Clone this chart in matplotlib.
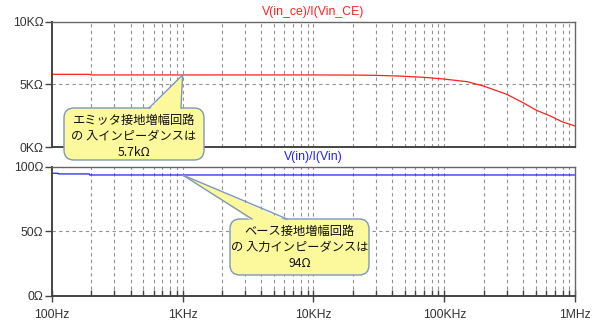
import numpy as np
import matplotlib.pyplot as plt
from matplotlib.patches import FancyBboxPatch, Polygon
from matplotlib.lines import Line2D

plt.rcParams['font.family'] = ['Liberation Sans', 'Noto Sans CJK JP', 'DejaVu Sans']

# upper trace: common-emitter input impedance (kOhm)
freq_ce = [100, 195, 200, 1000, 10000, 20000, 30000, 46000, 70000, 100000,
           150000, 200000, 300000, 400000, 500000, 640000, 795000, 1000000]
z_ce = [5.8, 5.8, 5.75, 5.75, 5.75, 5.74, 5.72, 5.66, 5.56, 5.42,
        5.21, 4.86, 4.2, 3.53, 2.95, 2.49, 2.01, 1.67]

# lower trace: common-base input impedance (Ohm)
freq_cb = [100, 112, 113, 194, 195, 1000000]
z_cb = [94.9, 94.9, 94.4, 94.4, 93.6, 93.6]

xticks = [100, 1000, 10000, 100000, 1000000]
xlabels = ["100Hz", "1KHz", "10KHz", "100KHz", "1MHz"]
yticks_ce = [0, 5, 10]
ylabels_ce = ["0KΩ", "5KΩ", "10KΩ"]
yticks_cb = [0, 50, 100]
ylabels_cb = ["0Ω", "50Ω", "100Ω"]

fig = plt.figure(figsize=(6, 3.29), dpi=100)
W, H = 600, 329


def px_axes(l, t, r, b):
    return fig.add_axes([l / W, 1 - b / H, (r - l) / W, (b - t) / H])


ax1 = px_axes(51.7, 21.7, 575.3, 147)
ax2 = px_axes(51.7, 166.7, 575.3, 296)

minor = [m * 10 ** e for e in range(2, 6) for m in range(2, 10)]
for ax, yt, yl in ((ax1, yticks_ce, ylabels_ce), (ax2, yticks_cb, ylabels_cb)):
    ax.set_xscale('log')
    ax.set_xlim(100, 1e6)
    ax.set_ylim(yt[0], yt[-1])
    ax.set_yticks(yt)
    ax.set_yticklabels(yl, fontsize=8.7, color='#333333')
    ax.set_xticks(xticks)
    ax.set_xticks(minor, minor=True)
    for x in minor + xticks[1:-1]:
        ax.axvline(x, color='#909090', lw=0.8, ls=(0, (3, 3)), zorder=0)
    ax.axhline(yt[1], color='#909090', lw=0.8, ls=(0, (3, 3)), zorder=0)
    for s in ax.spines.values():
        s.set_color('#666666')
        s.set_linewidth(1.0)
    ax.spines['left'].set_color('#444444')
    ax.spines['bottom'].set_color('#444444')
    ax.spines['left'].set_linewidth(1.4)
    ax.spines['bottom'].set_linewidth(1.4)
    ax.tick_params(axis='y', length=5, width=1, color='#444444', pad=1)

ax1.tick_params(axis='x', which='both', length=0, labelbottom=False)
ax2.set_xticklabels(xlabels, fontsize=8.7, color='#333333')
ax2.tick_params(axis='x', which='major', direction='inout', length=8, width=1,
                color='#444444', pad=5)
ax2.tick_params(axis='x', which='minor', direction='in', length=4, width=1,
                color='#444444', labelbottom=False)

ax1.plot(freq_ce, z_ce, color='#ff2020', lw=0.9)
ax2.plot(freq_cb, z_cb, color='#2020ff', lw=0.9)

fig.text(313 / W, 1 - 12 / H, "V(in_ce)/I(Vin_CE)", color='#ff2020',
         fontsize=8.8, ha='center', va='center')
fig.text(313 / W, 1 - 157 / H, "V(in)/I(Vin)", color='#2020ff',
         fontsize=8.8, ha='center', va='center')

yellow = '#fbf99c'
edge = '#7d97c0'


def callout(ax, tip_x, tip_y, box, base, lines):
    l, t, r, b = box
    tip = ax.transData.transform((tip_x, tip_y))
    tip = (tip[0], tip[1])
    bp = FancyBboxPatch((l, H - b), r - l, b - t, boxstyle="round,pad=0,rounding_size=10",
                        transform=None, fc=yellow, ec=edge, lw=1.0, zorder=10)
    fig.patches.append(bp)
    b0, b1 = base
    poly = Polygon([tip, (b0, H - t - 2), (b1, H - t - 2)], closed=True,
                   transform=None, fc=yellow, ec='none', zorder=11)
    fig.patches.append(poly)
    for bx in (b0, b1):
        fig.lines.append(Line2D([tip[0], bx], [tip[1], H - t], transform=None,
                                color=edge, lw=1.0, zorder=12))
    for i, s in enumerate(lines):
        y = t + 12.5 + 16 * i
        fig.text((l + r) / 2 / W, 1 - y / H, s, fontsize=8.8, ha='center',
                 va='center', color='#111111', zorder=13,
                 family=['Noto Sans CJK JP', 'DejaVu Sans'])


callout(ax1, 1000, 5.75, (64, 108, 204, 160), (149, 181),
        ["エミッタ接地増幅回路", "の 入インピーダンスは", "5.7kΩ"])
callout(ax2, 1000, 93.6, (230, 219, 369, 275), (252, 287),
        ["ベース接地増幅回路", "の 入力インピーダンスは", "94Ω"])

fig.savefig("out.png", dpi=100)
